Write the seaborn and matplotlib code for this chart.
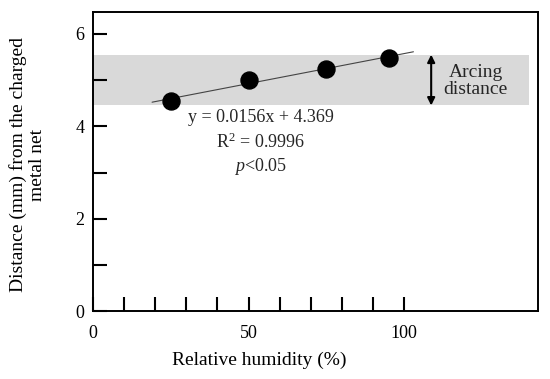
import numpy as np
import pandas as pd
import matplotlib
matplotlib.use("Agg")
import matplotlib.pyplot as plt
import seaborn as sns

# ── data ──────────────────────────────────────────────────────
humidity = [25, 50, 75, 95]          # relative humidity (%)
distance = [4.55, 5.00, 5.25, 5.48]  # distance (mm)
fit_range = [19, 103]                # extent of the drawn fit line
arc_band = [4.45, 5.55]              # arcing distance band (mm)

x_ticks = [0, 10, 20, 30, 40, 50, 60, 70, 80, 90, 100]
x_labels = ["0", "", "", "", "", "50", "", "", "", "", "100"]
y_ticks = [0, 1, 2, 3, 4, 5, 6]
y_labels = ["0", "", "2", "", "4", "", "6"]

eq_lines = ["y = 0.0156x + 4.369", "R$^2$ = 0.9996", "$p$<0.05"]

sns.set_theme(style="white")
plt.rcParams["font.family"] = ["Liberation Serif", "DejaVu Serif"]
plt.rcParams["mathtext.fontset"] = "custom"
plt.rcParams["mathtext.rm"] = "Liberation Serif"
plt.rcParams["mathtext.it"] = "Liberation Serif:italic"

df = pd.DataFrame({"x": humidity, "y": distance})
slope, icpt = np.polyfit(humidity, distance, 1)
fx = np.array(fit_range, dtype=float)
fit = pd.DataFrame({"x": fx, "y": slope * fx + icpt})

fig = plt.figure(figsize=(5.5, 3.79), dpi=100)
ax = fig.add_axes([0.169, 0.179, 0.809, 0.789])

ax.axhspan(arc_band[0], arc_band[1], xmin=0, xmax=140 / 143,
           color="#d9d9d9", lw=0, zorder=0)
sns.lineplot(data=fit, x="x", y="y", ax=ax, color="#444444", lw=0.8, zorder=2)
sns.scatterplot(data=df, x="x", y="y", ax=ax, color="black", s=150,
                edgecolor="black", zorder=3)

ax.set_xlim(0, 143)
ax.set_ylim(0, 6.47)
ax.set_xticks(x_ticks)
ax.set_xticklabels(x_labels)
ax.set_yticks(y_ticks)
ax.set_yticklabels(y_labels)
ax.tick_params(axis="both", direction="in", length=10, width=1.5,
               color="black", labelsize=13, labelcolor="black")
ax.tick_params(axis="x", pad=10)
ax.tick_params(axis="y", pad=6)
ax.tick_params(bottom=True, left=True)

for sp in ax.spines.values():
    sp.set_color("black")
    sp.set_linewidth(1.4)

# equation text
for i, t in enumerate(eq_lines):
    ax.text(54, 4.18 - i * 0.52, t, ha="center", va="center", fontsize=13)

# arcing distance arrow
ax.annotate("", xy=(108.7, arc_band[1]), xytext=(108.7, arc_band[0]),
            arrowprops=dict(arrowstyle="<|-|>", color="black", lw=1.5,
                            mutation_scale=11, shrinkA=0, shrinkB=0))
ax.text(123, 4.98, "Arcing\ndistance", ha="center", va="center",
        fontsize=14, linespacing=1.05)

ax.set_xlabel("Relative humidity (%)", fontsize=14, color="black")
ax.set_ylabel("Distance (mm) from the charged\nmetal net", fontsize=14,
              color="black", linespacing=1.15)
ax.xaxis.set_label_coords(0.373, -0.135)
ax.yaxis.set_label_coords(-0.105, 0.49)

plt.savefig("out.png", dpi=100)
plt.close()
